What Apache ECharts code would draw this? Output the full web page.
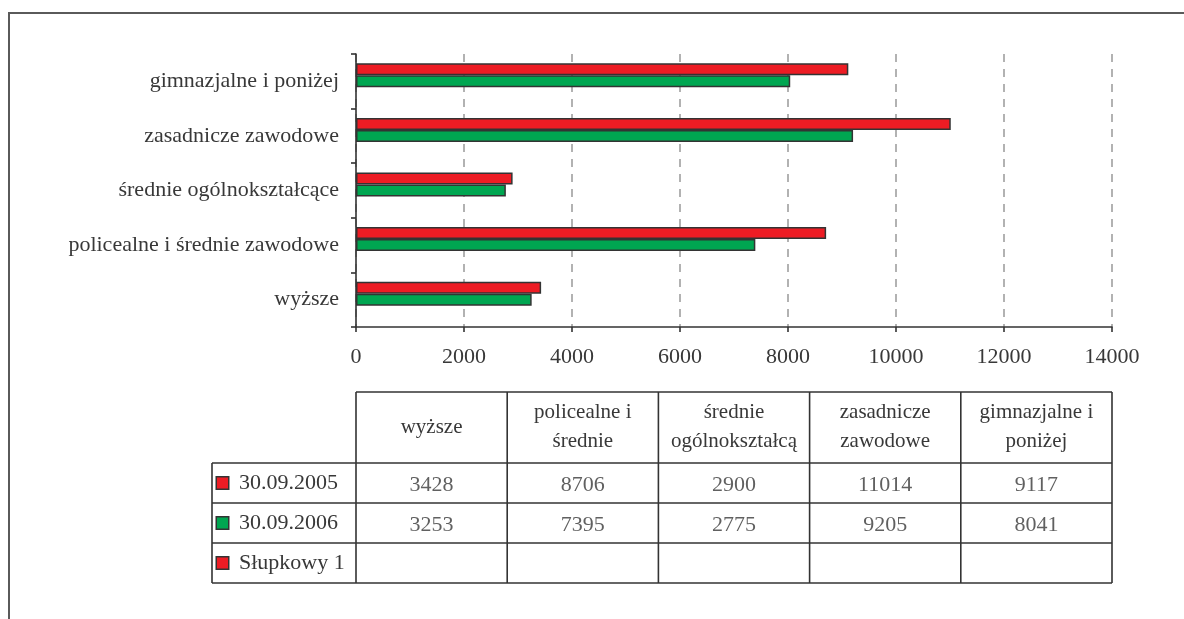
<!DOCTYPE html>
<html>
<head>
<meta charset="utf-8">
<script src="https://cdn.jsdelivr.net/npm/echarts@6/dist/echarts.min.js"></script>
<style>html,body{margin:0;padding:0;background:#fff}#c{width:1184px;height:619px}</style>
</head>
<body>
<div id="c"></div>
<script>
const categories = ['wyższe', 'policealne i średnie zawodowe', 'średnie ogólnokształcące', 'zasadnicze zawodowe', 'gimnazjalne i poniżej'];
const tableHeaders = ['wyższe', 'policealne i\nśrednie', 'średnie\nogólnokształcą', 'zasadnicze\nzawodowe', 'gimnazjalne i\nponiżej'];
const seriesNames = ['30.09.2005', '30.09.2006', 'Słupkowy 1'];
const values2005 = [3428, 8706, 2900, 11014, 9117];
const values2006 = [3253, 7395, 2775, 9205, 8041];
const valuesSlupkowy = [null, null, null, null, null];
const xTicks = { min: 0, max: 14000, interval: 2000 };

const RED = '#ED1C24', GREEN = '#00A651', DARK = '#333333', TXT = '#383838';
const FONT = 'Liberation Serif';
const colors = [RED, GREEN, RED];

// layout
const L = 356, R = 1112, W = R - L;
const T0 = 54, B0 = 327;
const TT = 392, TH = 463, TB = 583, TL = 212;

const chart = echarts.init(document.getElementById('c'), null, { renderer: 'canvas' });

const allSeries = [values2005, values2006, valuesSlupkowy];
const tableData = [];
allSeries.forEach((arr, r) => arr.forEach((v, c) => { tableData.push([c, r, v]); }));

const lines = [];
const lw = 1.6;
function line(x1, y1, x2, y2) {
  lines.push({ type: 'line', shape: { x1, y1, x2, y2 }, style: { stroke: DARK, lineWidth: lw }, silent: true });
}
// table framework
line(L, TT, R, TT);
for (let i = 0; i <= categories.length; i++) {
  const x = L + W * i / categories.length;
  line(x, TT, x, TB);
}
const rowH = (TB - TH) / 3;
for (let k = 0; k <= 3; k++) line(TL, TH + rowH * k, R, TH + rowH * k);
line(TL, TH, TL, TB);
// outer frame
lines.push({ type: 'rect', shape: { x: 9, y: 13, width: 1250, height: 700 }, style: { fill: 'none', stroke: '#5a5a5a', lineWidth: 2 }, silent: true, z: -1 });

chart.setOption({
  animation: false,
  backgroundColor: '#fff',
  textStyle: { fontFamily: FONT },
  grid: [
    { left: L, right: 1184 - R, top: T0, height: B0 - T0 },
    { left: L, right: 1184 - R, top: TH, height: TB - TH }
  ],
  xAxis: [
    {
      gridIndex: 0, type: 'value', min: xTicks.min, max: xTicks.max, interval: xTicks.interval,
      axisLine: { show: true, lineStyle: { color: DARK, width: 1.6 } },
      axisTick: { show: true, length: 5, lineStyle: { color: DARK, width: 1.6 } },
      splitLine: { show: true, lineStyle: { color: '#999', width: 1.5, type: [8, 7] } },
      axisLabel: { color: TXT, fontSize: 22, fontFamily: FONT, margin: 19, formatter: v => String(v) }
    },
    {
      gridIndex: 1, type: 'category', data: tableHeaders, position: 'top',
      axisLine: { show: false }, axisTick: { show: false }, splitLine: { show: false },
      axisLabel: { color: TXT, fontSize: 21, fontFamily: FONT, margin: 36, verticalAlign: 'middle', lineHeight: 29, interval: 0 }
    }
  ],
  yAxis: [
    {
      gridIndex: 0, type: 'category', data: categories,
      axisLine: { show: true, lineStyle: { color: DARK, width: 1.6 } },
      axisTick: { show: true, length: 5, lineStyle: { color: DARK, width: 1.6 } },
      axisLabel: { color: TXT, fontSize: 22, fontFamily: FONT, margin: 17 }
    },
    {
      gridIndex: 1, type: 'category', data: seriesNames, inverse: true,
      axisLine: { show: false }, axisTick: { show: false }, splitLine: { show: false },
      axisLabel: {
        align: 'left', margin: L - 217, color: TXT, fontSize: 22, fontFamily: FONT,
        formatter: (v, i) => '{s' + i + '|}  ' + v,
        rich: {
          s0: { width: 11, height: 11, backgroundColor: RED, borderColor: DARK, borderWidth: 1.5 },
          s1: { width: 11, height: 11, backgroundColor: GREEN, borderColor: DARK, borderWidth: 1.5 },
          s2: { width: 11, height: 11, backgroundColor: RED, borderColor: DARK, borderWidth: 1.5 }
        }
      }
    }
  ],
  series: [
    ...allSeries.map((arr, i) => ({
      name: seriesNames[i], type: 'bar', xAxisIndex: 0, yAxisIndex: 0,
      data: arr, barGap: '0%', barCategoryGap: '34%',
      itemStyle: { color: colors[i], borderColor: DARK, borderWidth: 1.5 }
    })),
    {
      type: 'scatter', xAxisIndex: 1, yAxisIndex: 1, symbolSize: 0,
      data: tableData.filter(d => d[2] != null),
      label: { show: true, position: 'inside', offset: [0, 2], formatter: p => String(p.value[2]), color: TXT, fontSize: 22, fontFamily: FONT }
    }
  ],
  graphic: lines
});
</script>
</body>
</html>
